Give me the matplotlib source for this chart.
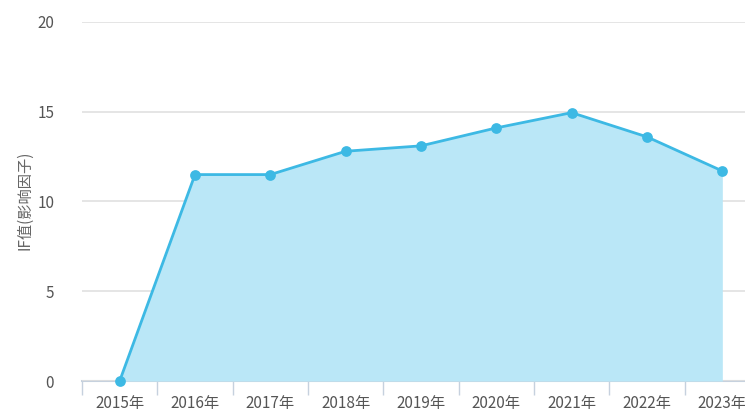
import matplotlib
matplotlib.use("Agg")
import matplotlib.pyplot as plt
import numpy as np

plt.rcParams['font.family'] = ['Noto Sans CJK SC', 'DejaVu Sans']

years = ["2015年", "2016年", "2017年", "2018年", "2019年", "2020年", "2021年", "2022年", "2023年"]
if_values = [0, 11.5, 11.5, 12.8, 13.1, 14.1, 14.95, 13.6, 11.7]
y_ticks = [0, 5, 10, 15, 20]

W, H = 745, 416
fig = plt.figure(figsize=(W / 100, H / 100), dpi=100)
left, right = 82, 760
top, bottom = 22, 381
ax = fig.add_axes([left / W, (H - bottom) / H, (right - left) / W, (bottom - top) / H])

x = np.arange(len(years))
line_c = "#3DB9E4"
fill_c = "#BAE7F7"
ax.fill_between(x, if_values, 0, color=fill_c, linewidth=0, zorder=2)
ax.plot(x, if_values, color=line_c, linewidth=2, zorder=3)
ax.scatter(x, if_values, s=60, color=line_c, zorder=4, clip_on=False, linewidths=0)

ax.set_xlim(-0.5, len(years) - 0.5)
ax.set_ylim(0, 20)
ax.set_yticks(y_ticks)
ax.set_yticklabels([str(v) for v in y_ticks])
ax.set_xticks(x)
ax.set_xticklabels(years)
ax.set_xticks(np.arange(-0.5, len(years), 1), minor=True)

ax.grid(axis='y', color="#E0E0E0", linewidth=1.2, zorder=0)
for s in ['top', 'right', 'left']:
    ax.spines[s].set_visible(False)
ax.spines['bottom'].set_color("#C6D1DE")
ax.spines['bottom'].set_linewidth(1.5)
ax.spines['bottom'].set_zorder(1)

ax.tick_params(axis='x', which='major', length=0, pad=10, labelsize=11, labelcolor="#555555")
ax.tick_params(axis='x', which='minor', length=10, color="#C6D1DE", width=1)
ax.tick_params(axis='y', length=0, pad=20, labelsize=11, labelcolor="#555555")

fig.text(25 / W, (H - 200) / H, "IF值(影响因子)", rotation=90, ha='center', va='center',
         fontsize=11, color="#666666")

fig.savefig("out.png", dpi=100)
